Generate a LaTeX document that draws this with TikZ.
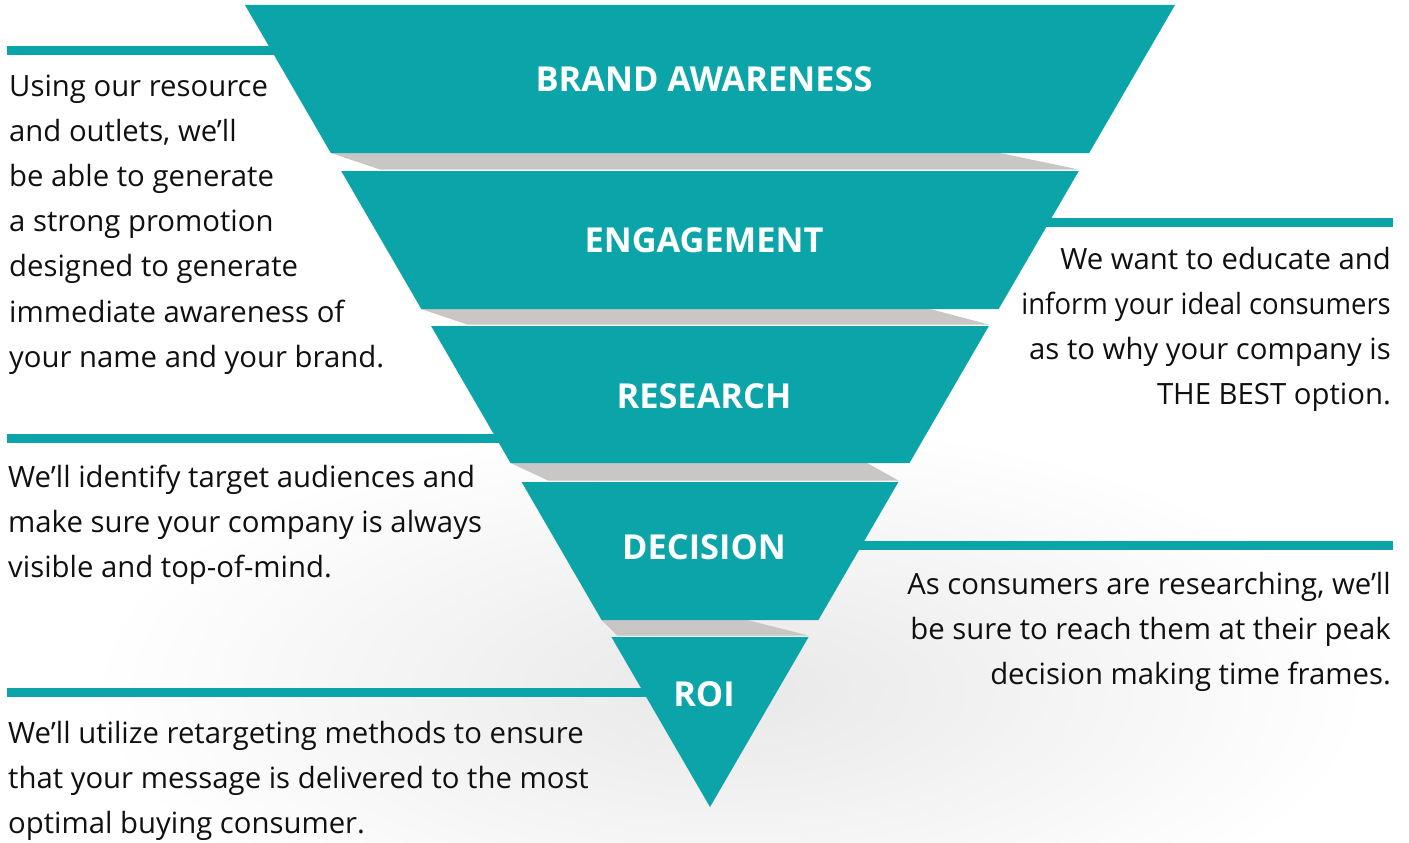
\documentclass[tikz,border=0pt]{standalone}
\usepackage{graphicx}
\usepackage{fontspec}
\setmainfont{Open Sans}
\definecolor{teal1}{RGB}{11,165,169}
\definecolor{bandgray}{RGB}{200,199,197}
\definecolor{txt}{RGB}{16,16,16}
\begin{document}
\begin{tikzpicture}[x=1pt,y=-1pt,
  layer/.style={fill=teal1},
  bandshape/.style={fill=bandgray},
  lead/.style={line width=9pt, draw=teal1},
  desc/.style={inner sep=0pt, text=txt, font=\fontsize{29.3}{45.2}\selectfont},
  lab/.style={inner sep=0pt, text=white, font=\fontsize{34.4}{40}\selectfont\bfseries}]
\useasboundingbox (0,0) rectangle (1409,843);
% soft shadow
\shade[inner color=black!9, outer color=white] (730,690) ellipse [x radius=640pt, y radius=270pt];
% leader lines (drawn under the funnel)
\coordinate (l1a) at (7,51);    \coordinate (l1b) at (310,51);
\coordinate (r1a) at (1393,222); \coordinate (r1b) at (1020,222);
\coordinate (l2a) at (7,438);   \coordinate (l2b) at (530,438);
\coordinate (r2a) at (1393,545); \coordinate (r2b) at (830,545);
\coordinate (l3a) at (7,692);   \coordinate (l3b) at (680,692);
\draw[lead] (l1a) -- (l1b);
\draw[lead] (r1a) -- (r1b);
\draw[lead] (l2a) -- (l2b);
\draw[lead] (r2a) -- (r2b);
\draw[lead] (l3a) -- (l3b);
% gray bands
\fill[bandshape] (330.8,153) -- (1000,153) -- (1078.8,169.5) -- (380,169.5) -- cycle;
\fill[bandshape] (421.3,309) -- (930,309) -- (988.9,324.5) -- (467,324.5) -- cycle;
\fill[bandshape] (510.5,463) -- (867,463) -- (898.4,480.5) -- (548,480.5) -- cycle;
\fill[bandshape] (601.6,620) -- (747,620) -- (808.6,635.5) -- (617,635.5) -- cycle;
% funnel layers
\fill[layer] (245,5) -- (1175,5) -- (1089.2,153) -- (330.8,153) -- cycle;
\fill[layer] (341.2,171) -- (1078.8,171) -- (998.7,309) -- (421.3,309) -- cycle;
\fill[layer] (431.1,326) -- (988.9,326) -- (909.5,463) -- (510.5,463) -- cycle;
\fill[layer] (521.6,482) -- (898.4,482) -- (818.4,620) -- (601.6,620) -- cycle;
\fill[layer] (611.4,637) -- (808.6,637) -- (710,807) -- cycle;
% layer labels
\node[lab] (a1) at (704,79) {BRAND AWARENESS};
\node[lab] (a2) at (704,240) {ENGAGEMENT};
\node[lab] (a3) at (704,396) {RESEARCH};
\node[lab] (a4) at (704,547) {DECISION};
\node[lab] (a5) at (704,694) {ROI};
% descriptions
\node[desc, anchor=base west] (t1) at (9,96) {\begin{tabular}[t]{@{}l@{}}Using our resource\\and outlets, we’ll\\be able to generate\\a strong promotion\\designed to generate\\immediate awareness of\\your name and your brand.\end{tabular}};
\node[desc, anchor=base east] (t2) at (1391,269) {\begin{tabular}[t]{@{}r@{}}We want to educate and\\\scalebox{0.937}[1]{inform your ideal consumers}\\as to why your company is\\THE BEST option.\end{tabular}};
\node[desc, anchor=base west] (t3) at (8,487) {\begin{tabular}[t]{@{}l@{}}We’ll identify target audiences and\\make sure your company is always\\visible and top-of-mind.\end{tabular}};
\node[desc, anchor=base east] (t4) at (1391,594) {\begin{tabular}[t]{@{}r@{}}As consumers are researching, we’ll\\be sure to reach them at their peak\\decision making time frames.\end{tabular}};
\node[desc, anchor=base west] (t5) at (8,743) {\begin{tabular}[t]{@{}l@{}}We’ll utilize retargeting methods to ensure\\that your message is delivered to the most\\optimal buying consumer.\end{tabular}};
\end{tikzpicture}
\end{document}
